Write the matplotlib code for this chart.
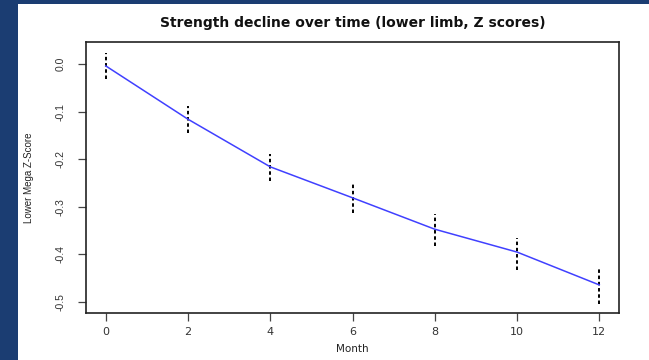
import matplotlib
matplotlib.use("Agg")
import matplotlib.pyplot as plt
from matplotlib.patches import Rectangle
import numpy as np

months = [0, 2, 4, 6, 8, 10, 12]
z_mean = [-0.004, -0.116, -0.216, -0.281, -0.347, -0.395, -0.464]
z_upper = [0.024, -0.088, -0.190, -0.251, -0.315, -0.366, -0.427]
z_lower = [-0.032, -0.144, -0.245, -0.314, -0.382, -0.433, -0.504]
x_ticks = [0, 2, 4, 6, 8, 10, 12]
y_ticks = [0.0, -0.1, -0.2, -0.3, -0.4, -0.5]
y_ticklabels = ["0.0", "-0.1", "-0.2", "-0.3", "-0.4", "-0.5"]

W, H = 649, 360
fig = plt.figure(figsize=(W / 100, H / 100), dpi=100)
fig.patch.set_facecolor("#1b3d72")
fig.add_artist(Rectangle((18 / W, 0), 1 - 18 / W, 1 - 4 / H, transform=fig.transFigure,
                         facecolor="white", edgecolor="none", zorder=0))

ax = fig.add_axes([86 / W, 1 - 313 / H, (619 - 86) / W, (313 - 42) / H])
ax.set_facecolor("white")

ax.plot(months, z_mean, color="#4040ff", lw=1.1, zorder=3)
ax.vlines(months, z_lower, z_upper, colors="black", linestyles=(0, (1.8, 1.4)), lw=1.4, zorder=2)

ax.set_xlim(-0.48, 12.48)
ax.set_ylim(-0.523, 0.0462)
ax.set_xticks(x_ticks)
ax.set_xticklabels([str(m) for m in x_ticks], fontsize=8, family="DejaVu Sans", color="#333333")
ax.set_yticks(y_ticks)
ax.set_yticklabels(y_ticklabels, fontsize=7.5, family="Liberation Sans", rotation=90,
                   va="center", color="#333333")
ax.tick_params(axis="both", direction="out", length=6, width=0.9, color="#444444")
ax.tick_params(axis="x", pad=4)
ax.tick_params(axis="y", pad=9)

for s in ax.spines.values():
    s.set_linewidth(1.2)
    s.set_color("#222222")

ax.set_title("Strength decline over time (lower limb, Z scores)", fontsize=10,
             fontweight="bold", family="DejaVu Sans", pad=11, color="#111111")
ax.set_xlabel("Month", fontsize=7.5, family="DejaVu Sans", labelpad=5, color="#222222")
ax.set_ylabel("Lower Mega Z-Score", fontsize=7, family="Liberation Sans", labelpad=15, color="#222222")

fig.savefig("out.png", dpi=100, facecolor=fig.get_facecolor())
